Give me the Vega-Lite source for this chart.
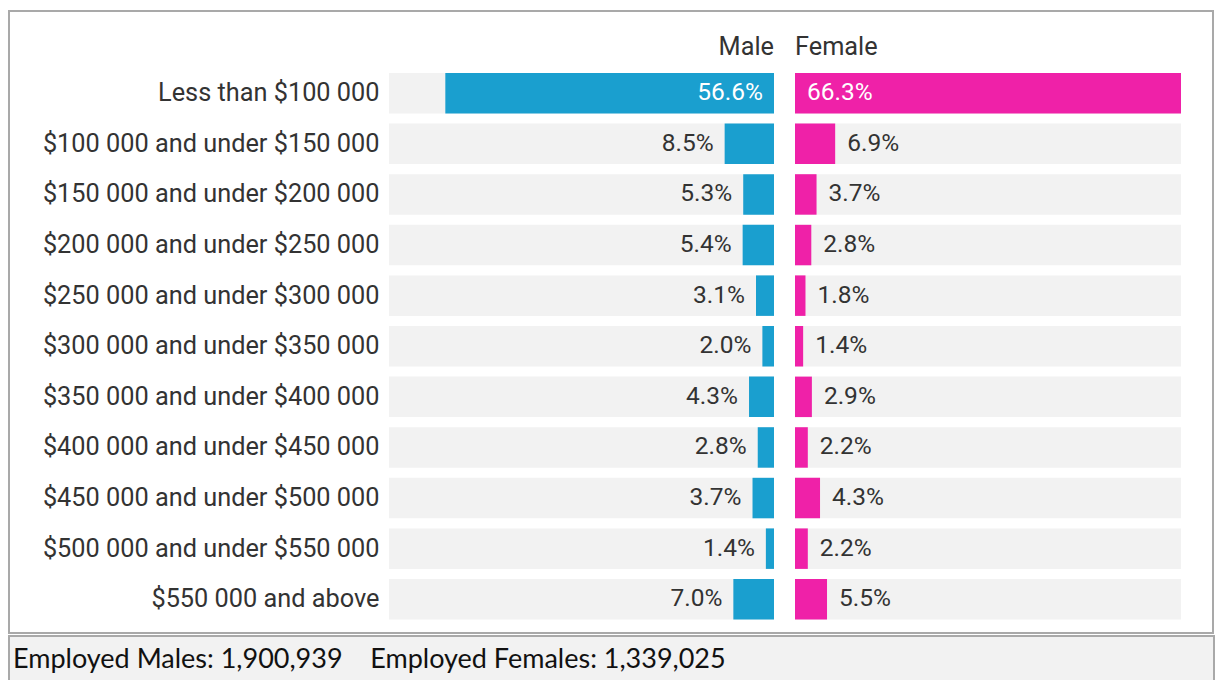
{
  "$schema": "https://vega.github.io/schema/vega-lite/v6.json",
  "padding": {"left": 8, "top": 10, "right": 0, "bottom": 0},
  "background": "white",
  "datasets": {
    "income": [
      {"bracket": "Less than $100 000", "male": 56.6, "female": 66.3},
      {"bracket": "$100 000 and under $150 000", "male": 8.5, "female": 6.9},
      {"bracket": "$150 000 and under $200 000", "male": 5.3, "female": 3.7},
      {"bracket": "$200 000 and under $250 000", "male": 5.4, "female": 2.8},
      {"bracket": "$250 000 and under $300 000", "male": 3.1, "female": 1.8},
      {"bracket": "$300 000 and under $350 000", "male": 2.0, "female": 1.4},
      {"bracket": "$350 000 and under $400 000", "male": 4.3, "female": 2.9},
      {"bracket": "$400 000 and under $450 000", "male": 2.8, "female": 2.2},
      {"bracket": "$450 000 and under $500 000", "male": 3.7, "female": 4.3},
      {"bracket": "$500 000 and under $550 000", "male": 1.4, "female": 2.2},
      {"bracket": "$550 000 and above", "male": 7.0, "female": 5.5}
    ],
    "headers": [{"sex": "Male"}, {"sex": "Female"}],
    "footer": [{"t": "Employed Males: 1,900,939\u00a0\u00a0\u00a0\u00a0Employed Females: 1,339,025"}]
  },
  "vconcat": [
    {
      "width": 1204,
      "height": 622,
      "view": {"stroke": "#a9a9a9", "strokeWidth": 2, "fill": "white"},
      "data": {"name": "income"},
      "transform": [
        {"calculate": "format(datum.male, '.1f') + '%'", "as": "maleLabel"},
        {"calculate": "format(datum.female, '.1f') + '%'", "as": "femaleLabel"}
      ],
      "resolve": {"scale": {"x": "independent"}},
      "layer": [
        {
          "layer": [
            {
              "mark": {"type": "bar", "color": "#f2f2f2"},
              "encoding": {
                "y": {"field": "bracket", "type": "nominal", "sort": null,
                  "scale": {"type": "band", "range": [62, 608.5], "paddingInner": 0.2, "paddingOuter": 0},
                  "axis": {"title": null, "orient": "left", "offset": -380, "labelPadding": 10, "ticks": false, "domain": false, "labelFont": "Roboto", "labelFontSize": 25.3, "labelColor": "#333333", "labelLimit": 0}},
                "x": {"datum": 0, "type": "quantitative",
                  "scale": {"type": "linear", "domain": [0, 66.3], "range": [765, 380], "nice": false, "zero": false}, "axis": null},
                "x2": {"datum": 66.3}
              }
            },
            {
              "mark": {"type": "bar", "color": "#1a9fcf"},
              "encoding": {
                "y": {"field": "bracket", "type": "nominal", "sort": null},
                "x": {"field": "male", "type": "quantitative"},
                "x2": {"datum": 0}
              }
            },
            {
              "transform": [{"filter": "datum.male < 50"}],
              "mark": {"type": "text", "align": "right", "baseline": "middle", "dx": -11, "font": "Roboto", "fontSize": 24.5, "color": "#333333"},
              "encoding": {
                "y": {"field": "bracket", "type": "nominal", "sort": null},
                "x": {"field": "male", "type": "quantitative"},
                "text": {"field": "maleLabel"}
              }
            },
            {
              "transform": [{"filter": "datum.male >= 50"}],
              "mark": {"type": "text", "align": "right", "baseline": "middle", "dx": -11, "font": "Roboto", "fontSize": 24.5, "color": "white"},
              "encoding": {
                "y": {"field": "bracket", "type": "nominal", "sort": null},
                "x": {"datum": 0, "type": "quantitative"},
                "text": {"field": "maleLabel"}
              }
            },
            {
              "data": {"name": "headers"},
              "transform": [{"filter": "datum.sex == 'Male'"}],
              "mark": {"type": "text", "align": "right", "baseline": "middle", "dy": -46, "font": "Roboto", "fontSize": 25.3, "color": "#333333"},
              "encoding": {
                "y": {"datum": "Less than $100 000", "type": "nominal"},
                "x": {"datum": 0, "type": "quantitative"},
                "text": {"field": "sex"}
              }
            }
          ]
        },
        {
          "layer": [
            {
              "mark": {"type": "bar", "color": "#f2f2f2"},
              "encoding": {
                "y": {"field": "bracket", "type": "nominal", "sort": null},
                "x": {"datum": 0, "type": "quantitative",
                  "scale": {"type": "linear", "domain": [0, 66.3], "range": [786, 1172], "nice": false, "zero": false}, "axis": null},
                "x2": {"datum": 66.3}
              }
            },
            {
              "mark": {"type": "bar", "color": "#ef21a8"},
              "encoding": {
                "y": {"field": "bracket", "type": "nominal", "sort": null},
                "x": {"field": "female", "type": "quantitative"},
                "x2": {"datum": 0}
              }
            },
            {
              "transform": [{"filter": "datum.female < 50"}],
              "mark": {"type": "text", "align": "left", "baseline": "middle", "dx": 12, "font": "Roboto", "fontSize": 24.5, "color": "#333333"},
              "encoding": {
                "y": {"field": "bracket", "type": "nominal", "sort": null},
                "x": {"field": "female", "type": "quantitative"},
                "text": {"field": "femaleLabel"}
              }
            },
            {
              "transform": [{"filter": "datum.female >= 50"}],
              "mark": {"type": "text", "align": "left", "baseline": "middle", "dx": 12, "font": "Roboto", "fontSize": 24.5, "color": "white"},
              "encoding": {
                "y": {"field": "bracket", "type": "nominal", "sort": null},
                "x": {"datum": 0, "type": "quantitative"},
                "text": {"field": "femaleLabel"}
              }
            },
            {
              "data": {"name": "headers"},
              "transform": [{"filter": "datum.sex == 'Female'"}],
              "mark": {"type": "text", "align": "left", "baseline": "middle", "dy": -46, "font": "Roboto", "fontSize": 25.3, "color": "#333333"},
              "encoding": {
                "y": {"datum": "Less than $100 000", "type": "nominal"},
                "x": {"datum": 0, "type": "quantitative"},
                "text": {"field": "sex"}
              }
            }
          ]
        }
      ]
    },
    {
      "width": 1205,
      "height": 47,
      "view": {"stroke": "#a9a9a9", "strokeWidth": 2, "fill": "#f2f2f2"},
      "data": {"name": "footer"},
      "mark": {"type": "text", "align": "left", "baseline": "middle", "dx": 4, "font": "Lato", "fontSize": 27, "color": "#111111"},
      "encoding": {
        "x": {"datum": 0, "type": "quantitative", "scale": {"domain": [0, 1], "nice": false}, "axis": null},
        "text": {"field": "t"}
      }
    }
  ],
  "spacing": 1,
  "config": {"view": {"stroke": null}}
}
